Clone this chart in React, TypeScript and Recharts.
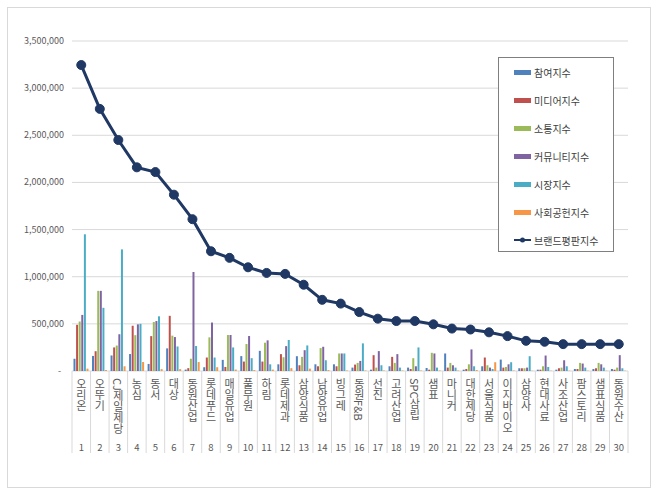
import React from 'react';
import { Bar, CartesianGrid, ComposedChart, Line, XAxis, YAxis } from 'recharts';

// 30 brands, ranked by brand reputation index
const brands = [
  '오리온', '오뚜기', 'CJ제일제당', '농심', '동서', '대상', '동원산업', '롯데푸드', '매일유업', '풀무원',
  '하림', '롯데제과', '삼양식품', '남양유업', '빙그레', '동원F&B', '선진', '고려산업', 'SPC삼립', '샘표',
  '마니커', '대한제당', '서울식품', '이지바이오', '삼양사', '현대사료', '사조산업', '팜스토리', '샘표식품', '동원수산',
];
const ranks = brands.map((_, i) => String(i + 1));

const participation = [
  130000, 160000, 165000, 180000, 75000, 240000, 15000, 40000, 118000, 158000,
  214000, 71000, 157000, 71000, 71000, 36000, 14000, 50000, 36000, 32000,
  186000, 14000, 50000, 121000, 29000, 14000, 14000, 21000, 21000, 21000,
];
const media = [
  490000, 210000, 250000, 480000, 370000, 585000, 30000, 143000, 43000, 100000,
  100000, 179000, 61000, 50000, 50000, 68000, 168000, 150000, 21000, 14000,
  36000, 21000, 143000, 36000, 29000, 14000, 29000, 21000, 29000, 14000,
];
const communication = [
  525000, 850000, 270000, 380000, 520000, 375000, 130000, 357000, 382000, 286000,
  300000, 146000, 150000, 243000, 186000, 86000, 36000, 86000, 136000, 193000,
  86000, 71000, 61000, 43000, 29000, 50000, 36000, 86000, 86000, 36000,
];
const community = [
  595000, 850000, 390000, 495000, 530000, 360000, 1050000, 514000, 382000, 371000,
  325000, 264000, 221000, 257000, 186000, 107000, 211000, 179000, 50000, 186000,
  61000, 229000, 36000, 71000, 36000, 164000, 114000, 79000, 71000, 168000,
];
const market = [
  1450000, 670000, 1290000, 500000, 580000, 260000, 265000, 143000, 250000, 136000,
  71000, 329000, 271000, 114000, 186000, 293000, 61000, 36000, 250000, 36000,
  36000, 50000, 21000, 93000, 157000, 43000, 50000, 36000, 36000, 29000,
];
const social = [
  25000, 10000, 50000, 95000, 20000, 20000, 95000, 40000, 15000, 10000,
  15000, 30000, 25000, 10000, 5000, 5000, 5000, 5000, 5000, 5000,
  5000, 10000, 93000, 5000, 3000, 3000, 3000, 3000, 3000, 3000,
];
const reputation = [
  3245000, 2780000, 2450000, 2160000, 2110000, 1870000, 1610000, 1270000, 1200000, 1100000,
  1040000, 1030000, 915000, 755000, 715000, 625000, 555000, 530000, 530000, 495000,
  450000, 440000, 410000, 370000, 320000, 310000, 285000, 285000, 285000, 285000,
];

const yTicks = [0, 500000, 1000000, 1500000, 2000000, 2500000, 3000000, 3500000];

const barSeries = [
  { key: 'participation', label: '참여지수', color: '#4f81bd', values: participation },
  { key: 'media', label: '미디어지수', color: '#c0504d', values: media },
  { key: 'communication', label: '소통지수', color: '#9bbb59', values: communication },
  { key: 'community', label: '커뮤니티지수', color: '#8064a2', values: community },
  { key: 'market', label: '시장지수', color: '#4bacc6', values: market },
  { key: 'social', label: '사회공헌지수', color: '#f79646', values: social },
];
const lineSeries = { key: 'reputation', label: '브랜드평판지수', color: '#1f3864' };

const data = brands.map((name, i) => {
  const row: Record<string, string | number> = { name, rank: ranks[i], reputation: reputation[i] };
  barSeries.forEach((s) => {
    row[s.key] = s.values[i];
  });
  return row;
});

const FONT = '"Noto Sans CJK KR", "Noto Sans", sans-serif';
const TEXT = '#595959';
const GRID = '#d9d9d9';

const CHART_W = 660;
const CHART_H = 496;
const margin = { top: 41, right: 32, left: 12, bottom: 0 };
const Y_AXIS_W = 60;
const X_AXIS_H = 125;
const PLOT_BOTTOM = CHART_H - X_AXIS_H;
const BAND = (CHART_W - margin.left - Y_AXIS_W - margin.right) / brands.length;

function YTick({ x, y, payload }: any) {
  const v = payload.value as number;
  return (
    <text x={v === 0 ? x - 3 : x} y={y} dy={3} textAnchor="end" fontSize={9} fill={TEXT} fontFamily={FONT}>
      {v === 0 ? '-' : v.toLocaleString('en-US')}
    </text>
  );
}

function XTick({ x, index, payload }: any) {
  const left = x - BAND / 2;
  const right = x + BAND / 2;
  return (
    <g>
      <line x1={left} x2={left} y1={PLOT_BOTTOM} y2={PLOT_BOTTOM + 82} stroke={GRID} />
      {index === brands.length - 1 && (
        <line x1={right} x2={right} y1={PLOT_BOTTOM} y2={PLOT_BOTTOM + 82} stroke={GRID} />
      )}
      <text
        x={x}
        y={PLOT_BOTTOM + 7}
        fontSize={11}
        fill={TEXT}
        fontFamily={FONT}
        style={{ writingMode: 'vertical-rl', textOrientation: 'mixed' }}
      >
        {payload.value}
      </text>
      <text x={x} y={PLOT_BOTTOM + 80} textAnchor="middle" fontSize={9.5} fill={TEXT} fontFamily={FONT}>
        {ranks[index]}
      </text>
    </g>
  );
}

function LegendBox() {
  return (
    <div
      style={{
        position: 'absolute',
        left: 498,
        top: 57,
        width: 114,
        height: 193,
        border: '1px solid #7f7f7f',
        background: '#fff',
        fontFamily: FONT,
        fontSize: 10,
        color: '#404040',
      }}
    >
      {barSeries.map((s, i) => (
        <div key={s.key} style={{ position: 'absolute', left: 15, top: 6 + i * 28, height: 16, display: 'flex', alignItems: 'center' }}>
          <span style={{ display: 'inline-block', width: 17, height: 5, background: s.color, marginRight: 3 }} />
          {s.label}
        </div>
      ))}
      <div style={{ position: 'absolute', left: 15, top: 6 + 6 * 28, height: 16, display: 'flex', alignItems: 'center' }}>
        <svg width={17} height={8} style={{ marginRight: 3 }}>
          <line x1={0} x2={17} y1={4} y2={4} stroke={lineSeries.color} strokeWidth={2} />
          <circle cx={8.5} cy={4} r={2.5} fill={lineSeries.color} />
        </svg>
        {lineSeries.label}
      </div>
    </div>
  );
}

export default function App() {
  return (
    <div style={{ position: 'absolute', left: 0, top: 0, width: CHART_W, height: CHART_H, background: '#fff' }}>
      <div
        style={{
          position: 'absolute',
          left: 7,
          top: 7,
          width: 642,
          height: 479,
          border: '1px solid #d9d9d9',
        }}
      />
      <div style={{ position: 'absolute', left: 0, top: 0 }}>
        <ComposedChart
          width={CHART_W}
          height={CHART_H}
          data={data}
          margin={margin}
          barGap={0.6}
          barCategoryGap="8%"
        >
          <CartesianGrid vertical={false} stroke={GRID} />
          <XAxis
            dataKey="name"
            interval={0}
            height={X_AXIS_H}
            tickLine={false}
            axisLine={false}
            tick={<XTick />}
          />
          <YAxis
            width={Y_AXIS_W}
            domain={[0, 3500000]}
            ticks={yTicks}
            tickLine={false}
            axisLine={false}
            tick={<YTick />}
          />
          {barSeries.map((s) => (
            <Bar key={s.key} dataKey={s.key} name={s.label} fill={s.color} isAnimationActive={false} />
          ))}
          <Line
            dataKey={lineSeries.key}
            name={lineSeries.label}
            stroke={lineSeries.color}
            strokeWidth={3}
            dot={{ r: 4.5, fill: lineSeries.color, stroke: lineSeries.color, strokeWidth: 1 }}
            isAnimationActive={false}
          />
        </ComposedChart>
      </div>
      <LegendBox />
    </div>
  );
}
